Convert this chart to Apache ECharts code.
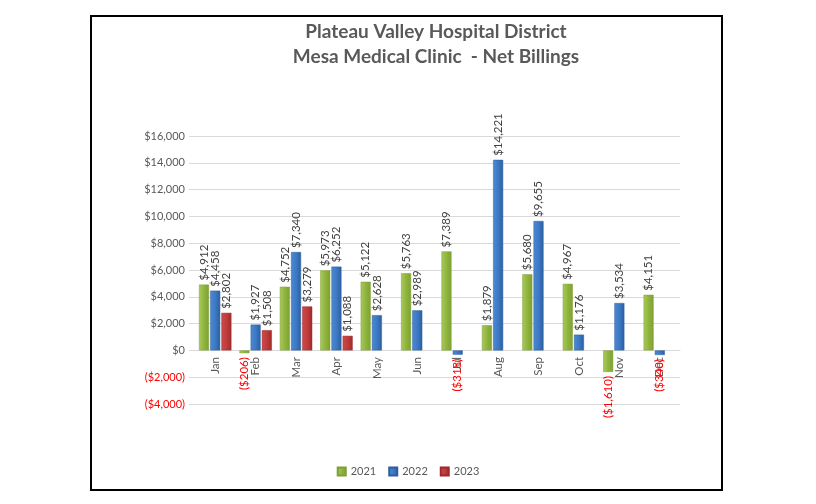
<!DOCTYPE html>
<html><head><meta charset="utf-8">
<script src="https://cdn.jsdelivr.net/npm/echarts@6/dist/echarts.min.js"></script>
<style>html,body{margin:0;padding:0;background:#fff}#c{width:816px;height:504px}</style>
</head><body><div id="c"></div>
<script>
const months = ['Jan','Feb','Mar','Apr','May','Jun','Jul','Aug','Sep','Oct','Nov','Dec'];
const s2021 = [4912,-206,4752,5973,5122,5763,7389,1879,5680,4967,-1610,4151];
const s2022 = [4458,1927,7340,6252,2628,2989,-318,14221,9655,1176,3534,-340];
const s2023 = [2802,1508,3279,1088,null,null,null,null,null,null,null,null];
const seriesNames = ['2021','2022','2023'];
const yTicks = {min:-4000,max:16000,interval:2000};

function money(v){
  const s = '$' + Math.abs(v).toLocaleString('en-US');
  return v < 0 ? '(' + s + ')' : s;
}
const FONT = 'Lato';
const colors = [
  ['#a9c95c','#7f9f34','#8db33b'],
  ['#4d8ad6','#2c5f9e','#3b77c2'],
  ['#d04a4a','#9e2b2b','#bf3a3a']
];
function mkSeries(name, data, ci){
  return {
    name: name, type:'bar', barWidth:10, barGap:'12%',
    itemStyle:{
      color:{type:'linear',x:0,y:0,x2:1,y2:0,colorStops:[
        {offset:0,color:colors[ci][0]},{offset:0.55,color:colors[ci][2]},{offset:1,color:colors[ci][1]}]},
      borderColor: colors[ci][1], borderWidth:0.5
    },
    data: data.map(v => {
      if (v === null) return null;
      if (v < 0) return {value:v, label:{show:true, position:'bottom', rotate:90, align:'right', verticalAlign:'middle', color:'#ff0000', distance:4}};
      return {value:v, label:{show:true, position:'top', rotate:90, align:'left', verticalAlign:'middle', color:'#404040', distance:4}};
    }),
    label:{show:true, fontFamily:FONT, fontSize:11.5, formatter: p => money(p.value)}
  };
}
const chart = echarts.init(document.getElementById('c'), null, {renderer:'canvas'});
chart.setOption({
  animation:false,
  color:[colors[0][2],colors[1][2],colors[2][2]],
  title:{
    text:'Plateau Valley Hospital District\nMesa Medical Clinic  - Net Billings',
    left:431, top:14, textAlign:'center',
    textStyle:{fontFamily:FONT, fontWeight:'bold', fontSize:19, color:'#595959', lineHeight:25}
  },
  graphic:[{type:'rect', shape:{x:91,y:16,width:631,height:474}, style:{fill:'none', stroke:'#000', lineWidth:2}, z:-1}],
  legend:{
    bottom:22, left:'center', itemWidth:8, itemHeight:8, itemGap:12, icon:'rect',
    textStyle:{fontFamily:FONT, fontSize:11, color:'#595959'},
    data:seriesNames
  },
  grid:{left:195, right:136, top:136, bottom:100},
  xAxis:{
    type:'category', data:months,
    axisLine:{onZero:true, lineStyle:{color:'#d9d9d9'}},
    axisTick:{show:false},
    axisLabel:{rotate:90, fontFamily:FONT, fontSize:11.5, color:'#595959', margin:-47}
  },
  yAxis:{
    type:'value', min:yTicks.min, max:yTicks.max, interval:yTicks.interval,
    axisLine:{show:false},
    axisTick:{show:true, length:6, lineStyle:{color:'#d9d9d9'}},
    splitLine:{lineStyle:{color:'#d9d9d9'}},
    axisLabel:{fontFamily:FONT, fontSize:11, margin:10, formatter: v => money(v),
      color: v => (v < 0 ? '#ff0000' : '#595959')}
  },
  series:[mkSeries(seriesNames[0], s2021, 0), mkSeries(seriesNames[1], s2022, 1), mkSeries(seriesNames[2], s2023, 2)]
});
</script></body></html>
